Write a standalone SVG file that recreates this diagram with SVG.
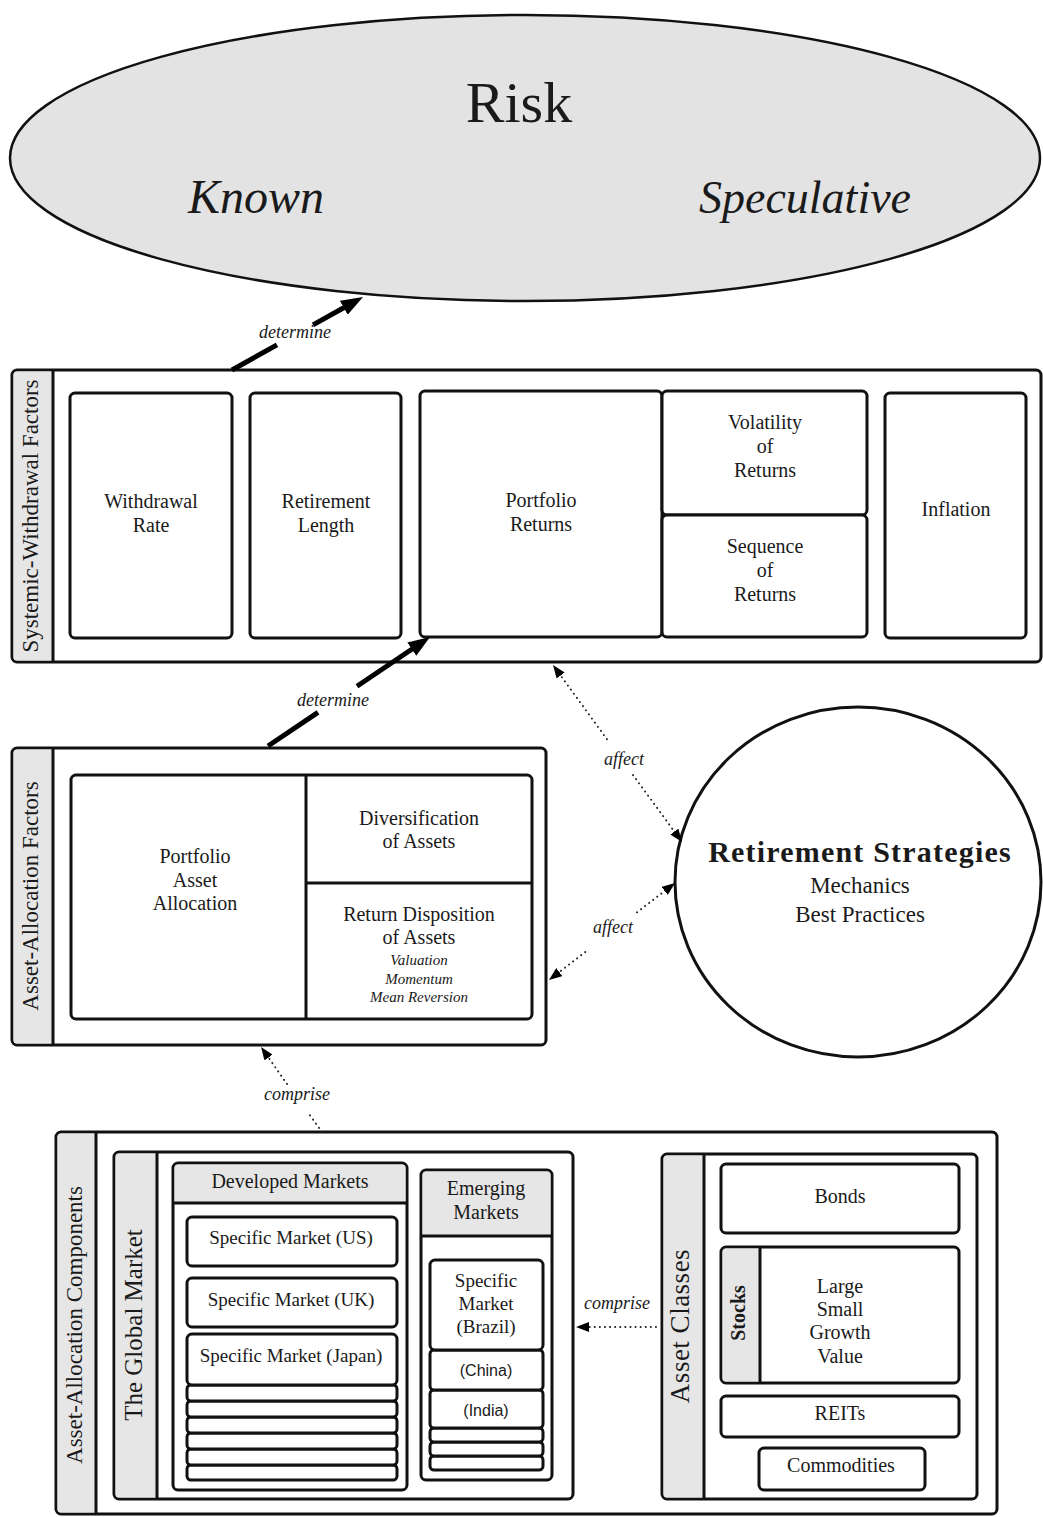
<svg xmlns="http://www.w3.org/2000/svg" width="1043" height="1517" viewBox="0 0 1043 1517">
<style>
  .box { fill: #ffffff; stroke: #111; stroke-width: 3; }
  .line { fill: none; stroke: #111; stroke-width: 3; }
  .strip { fill: #e6e6e6; stroke: none; }
  .t { font-family: "Liberation Serif", serif; font-size: 20px; text-anchor: middle; fill: #1a1a1a; }
  .small { font-size: 19px; }
  .it { font-style: italic; font-size: 15px; }
  .lbl { font-family: "Liberation Serif", serif; font-style: italic; font-size: 18px; text-anchor: middle; fill: #1a1a1a; }
  .side { font-size: 23px; }
  .big { font-size: 25px; }
  .sans { font-family: "Liberation Sans", Arial, sans-serif; font-size: 16px; text-anchor: middle; fill: #1a1a1a; }
  .thick { fill: none; stroke: #000; stroke-width: 5; }
  .dot { fill: none; stroke: #222; stroke-width: 2; stroke-linecap: round; stroke-dasharray: 0.1 5; }
</style>
<defs>
  <marker id="headBig" markerUnits="userSpaceOnUse" markerWidth="22" markerHeight="16" viewBox="0 0 22 16" refX="4" refY="8" orient="auto">
    <path d="M0,0 L22,8 L0,16 z" fill="#000"/>
  </marker>
  <marker id="headDot" markerUnits="userSpaceOnUse" markerWidth="13" markerHeight="10" viewBox="0 0 13 10" refX="3" refY="5" orient="auto-start-reverse">
    <path d="M0,0 L13,5 L0,10 z" fill="#000"/>
  </marker>
</defs>
<rect width="1043" height="1517" fill="#ffffff"/>

<!-- Risk ellipse -->
<g id="risk">
  <ellipse cx="525" cy="158" rx="515" ry="143" fill="#e3e3e3" stroke="#111" stroke-width="2.5"/>
  <text class="t" x="519" y="122" style="font-size:58px">Risk</text>
  <text class="t" x="256" y="213" style="font-size:48px;font-style:italic">Known</text>
  <text class="t" x="805" y="213" style="font-size:46px;font-style:italic">Speculative</text>
</g>

<!-- Systemic-Withdrawal Factors -->
<g id="systemic">
  <rect class="box" x="12" y="370" width="1029" height="292" rx="5"/>
  <path class="strip" d="M17,371.5 H52 V660.5 H17 Q13.5,660.5 13.5,657 V375 Q13.5,371.5 17,371.5 z"/>
  <line class="line" x1="53" y1="370" x2="53" y2="662"/>
  <text class="t side" transform="translate(38,516) rotate(-90)">Systemic-Withdrawal Factors</text>
</g>
<g id="withdrawal-rate">
  <rect class="box" x="70" y="393" width="162" height="245" rx="5"/>
  <text class="t" x="151" y="508">Withdrawal</text>
  <text class="t" x="151" y="532">Rate</text>
</g>
<g id="retirement-length">
  <rect class="box" x="250" y="393" width="151" height="245" rx="5"/>
  <text class="t" x="326" y="508">Retirement</text>
  <text class="t" x="326" y="532">Length</text>
</g>
<g id="portfolio-returns">
  <rect class="box" x="420" y="391" width="242" height="246" rx="5"/>
  <text class="t" x="541" y="507">Portfolio</text>
  <text class="t" x="541" y="531">Returns</text>
</g>
<g id="volatility">
  <rect class="box" x="662" y="391" width="205" height="124" rx="5"/>
  <text class="t" x="765" y="429">Volatility</text>
  <text class="t" x="765" y="453">of</text>
  <text class="t" x="765" y="477">Returns</text>
</g>
<g id="sequence">
  <rect class="box" x="662" y="515" width="205" height="122" rx="5"/>
  <text class="t" x="765" y="553">Sequence</text>
  <text class="t" x="765" y="577">of</text>
  <text class="t" x="765" y="601">Returns</text>
</g>
<g id="inflation">
  <rect class="box" x="885" y="393" width="141" height="245" rx="5"/>
  <text class="t" x="956" y="516">Inflation</text>
</g>

<!-- Asset-Allocation Factors -->
<g id="asset-allocation-factors">
  <rect class="box" x="12" y="748" width="534" height="297" rx="5"/>
  <path class="strip" d="M17,749.5 H52 V1043.5 H17 Q13.5,1043.5 13.5,1040 V753 Q13.5,749.5 17,749.5 z"/>
  <line class="line" x1="53" y1="748" x2="53" y2="1045"/>
  <text class="t side" transform="translate(38,896) rotate(-90)">Asset-Allocation Factors</text>
</g>
<g id="portfolio-asset-allocation">
  <rect class="box" x="71" y="775" width="461" height="244" rx="5"/>
  <line class="line" x1="306" y1="775" x2="306" y2="1019"/>
  <text class="t" x="195" y="863">Portfolio</text>
  <text class="t" x="195" y="887">Asset</text>
  <text class="t" x="195" y="910">Allocation</text>
</g>
<g id="diversification">
  <line class="line" x1="306" y1="883" x2="532" y2="883"/>
  <text class="t" x="419" y="825">Diversification</text>
  <text class="t" x="419" y="848">of Assets</text>
</g>
<g id="return-disposition">
  <text class="t" x="419" y="921">Return Disposition</text>
  <text class="t" x="419" y="944">of Assets</text>
  <text class="t it" x="419" y="965">Valuation</text>
  <text class="t it" x="419" y="984">Momentum</text>
  <text class="t it" x="419" y="1002">Mean Reversion</text>
</g>

<!-- Retirement Strategies circle -->
<g id="retirement-strategies">
  <ellipse cx="858" cy="882" rx="183" ry="175" fill="#ffffff" stroke="#111" stroke-width="3"/>
  <text class="t" x="860" y="862" style="font-size:30px;font-weight:bold;letter-spacing:1.2px">Retirement  Strategies</text>
  <text class="t" x="860" y="893" style="font-size:23px">Mechanics</text>
  <text class="t" x="860" y="922" style="font-size:23px">Best Practices</text>
</g>

<!-- Asset-Allocation Components -->
<g id="asset-allocation-components">
  <rect class="box" x="56" y="1132" width="941" height="382" rx="5"/>
  <path class="strip" d="M61,1133.5 H95 V1512.5 H61 Q57.5,1512.5 57.5,1509 V1137 Q57.5,1133.5 61,1133.5 z"/>
  <line class="line" x1="96" y1="1132" x2="96" y2="1514"/>
  <text class="t side" transform="translate(82,1325) rotate(-90)">Asset-Allocation Components</text>
</g>
<g id="global-market">
  <rect class="box" x="114" y="1152" width="459" height="347" rx="5"/>
  <path class="strip" d="M119,1153.5 H156 V1497.5 H119 Q115.5,1497.5 115.5,1494 V1157 Q115.5,1153.5 119,1153.5 z"/>
  <line class="line" x1="157" y1="1152" x2="157" y2="1499"/>
  <text class="t big" transform="translate(142,1325) rotate(-90)">The Global Market</text>
</g>
<g id="developed-markets">
  <rect class="box" x="173" y="1163" width="234" height="327" rx="5"/>
  <path class="strip" d="M178,1164.5 H402 Q405.5,1164.5 405.5,1168 V1202 H174.5 V1168 Q174.5,1164.5 178,1164.5 z"/>
  <line class="line" x1="173" y1="1203" x2="407" y2="1203"/>
  <text class="t" x="290" y="1188">Developed Markets</text>
</g>
<g id="market-us">
  <rect class="box" x="187" y="1217" width="210" height="49" rx="5"/>
  <text class="t small" x="291" y="1244">Specific Market (US)</text>
</g>
<g id="market-uk">
  <rect class="box" x="187" y="1278" width="210" height="49" rx="5"/>
  <text class="t small" x="291" y="1306">Specific Market (UK)</text>
</g>
<g id="market-japan">
  <rect class="box" x="187" y="1465" width="210" height="15" rx="4"/>
  <rect class="box" x="187" y="1449" width="210" height="16" rx="4"/>
  <rect class="box" x="187" y="1433" width="210" height="16" rx="4"/>
  <rect class="box" x="187" y="1417" width="210" height="16" rx="4"/>
  <rect class="box" x="187" y="1401" width="210" height="16" rx="4"/>
  <rect class="box" x="187" y="1385" width="210" height="16" rx="4"/>
  <rect class="box" x="187" y="1334" width="210" height="51" rx="5"/>
  <text class="t small" x="291" y="1362">Specific Market (Japan)</text>
</g>
<g id="emerging-markets">
  <rect class="box" x="421" y="1170" width="131" height="310" rx="5"/>
  <path class="strip" d="M426,1171.5 H547 Q550.5,1171.5 550.5,1175 V1235 H422.5 V1175 Q422.5,1171.5 426,1171.5 z"/>
  <line class="line" x1="421" y1="1236" x2="552" y2="1236"/>
  <text class="t" x="486" y="1195">Emerging</text>
  <text class="t" x="486" y="1219">Markets</text>
</g>
<g id="market-brazil">
  <rect class="box" x="430" y="1456" width="113" height="14" rx="4"/>
  <rect class="box" x="430" y="1442" width="113" height="14" rx="4"/>
  <rect class="box" x="430" y="1428" width="113" height="14" rx="4"/>
  <rect class="box" x="430" y="1390" width="113" height="38" rx="4"/>
  <rect class="box" x="430" y="1350" width="113" height="40" rx="4"/>
  <rect class="box" x="430" y="1260" width="113" height="90" rx="5"/>
  <text class="t small" x="486" y="1287">Specific</text>
  <text class="t small" x="486" y="1310">Market</text>
  <text class="t small" x="486" y="1333">(Brazil)</text>
  <text class="sans" x="486" y="1376">(China)</text>
  <text class="sans" x="486" y="1416">(India)</text>
</g>

<g id="asset-classes">
  <rect class="box" x="662" y="1154" width="315" height="345" rx="5"/>
  <path class="strip" d="M667,1155.5 H703 V1497.5 H667 Q663.5,1497.5 663.5,1494 V1159 Q663.5,1155.5 667,1155.5 z"/>
  <line class="line" x1="704" y1="1154" x2="704" y2="1499"/>
  <text class="t" transform="translate(689,1326) rotate(-90)" style="font-size:27px;letter-spacing:0.5px">Asset Classes</text>
</g>
<g id="bonds">
  <rect class="box" x="721" y="1164" width="238" height="69" rx="5"/>
  <text class="t" x="840" y="1203">Bonds</text>
</g>
<g id="stocks">
  <rect class="box" x="721" y="1247" width="238" height="136" rx="5"/>
  <path class="strip" d="M726,1248.5 H759 V1381.5 H726 Q722.5,1381.5 722.5,1378 V1252 Q722.5,1248.5 726,1248.5 z"/>
  <line class="line" x1="760" y1="1247" x2="760" y2="1383"/>
  <text class="t" transform="translate(745,1313) rotate(-90)" style="font-size:20px;font-weight:bold">Stocks</text>
  <text class="t" x="840" y="1293">Large</text>
  <text class="t" x="840" y="1316">Small</text>
  <text class="t" x="840" y="1339">Growth</text>
  <text class="t" x="840" y="1363">Value</text>
</g>
<g id="reits">
  <rect class="box" x="721" y="1396" width="238" height="41" rx="5"/>
  <text class="t" x="840" y="1420">REITs</text>
</g>
<g id="commodities">
  <rect class="box" x="759" y="1448" width="166" height="42" rx="5"/>
  <text class="t" x="841" y="1472">Commodities</text>
</g>

<!-- Connectors -->
<g id="connectors">
  <path class="thick" d="M232,370 L277,344.9"/>
  <path class="thick" d="M313,324.9 L347.3,305.8" marker-end="url(#headBig)"/>
  <text class="lbl" x="295" y="338">determine</text>

  <path class="thick" d="M268,746 L318,712.4"/>
  <path class="thick" d="M357,686.2 L415.1,647" marker-end="url(#headBig)"/>
  <text class="lbl" x="333" y="706">determine</text>

  <path class="dot" d="M558.9,673.1 L609,742" marker-start="url(#headDot)"/>
  <path class="dot" d="M633,775 L676.1,833.9" marker-end="url(#headDot)"/>
  <text class="lbl" x="624" y="765">affect</text>

  <path class="dot" d="M556.9,973.9 L587,950.7" marker-start="url(#headDot)"/>
  <path class="dot" d="M637,912.3 L667.1,889.1" marker-end="url(#headDot)"/>
  <text class="lbl" x="613" y="933">affect</text>

  <path class="dot" d="M322,1132 L309,1114"/>
  <path class="dot" d="M287,1084 L266.8,1055.1" marker-end="url(#headDot)"/>
  <text class="lbl" x="297" y="1100">comprise</text>

  <path class="dot" d="M656,1327 L586,1327" marker-end="url(#headDot)"/>
  <text class="lbl" x="617" y="1309">comprise</text>
</g>
</svg>
